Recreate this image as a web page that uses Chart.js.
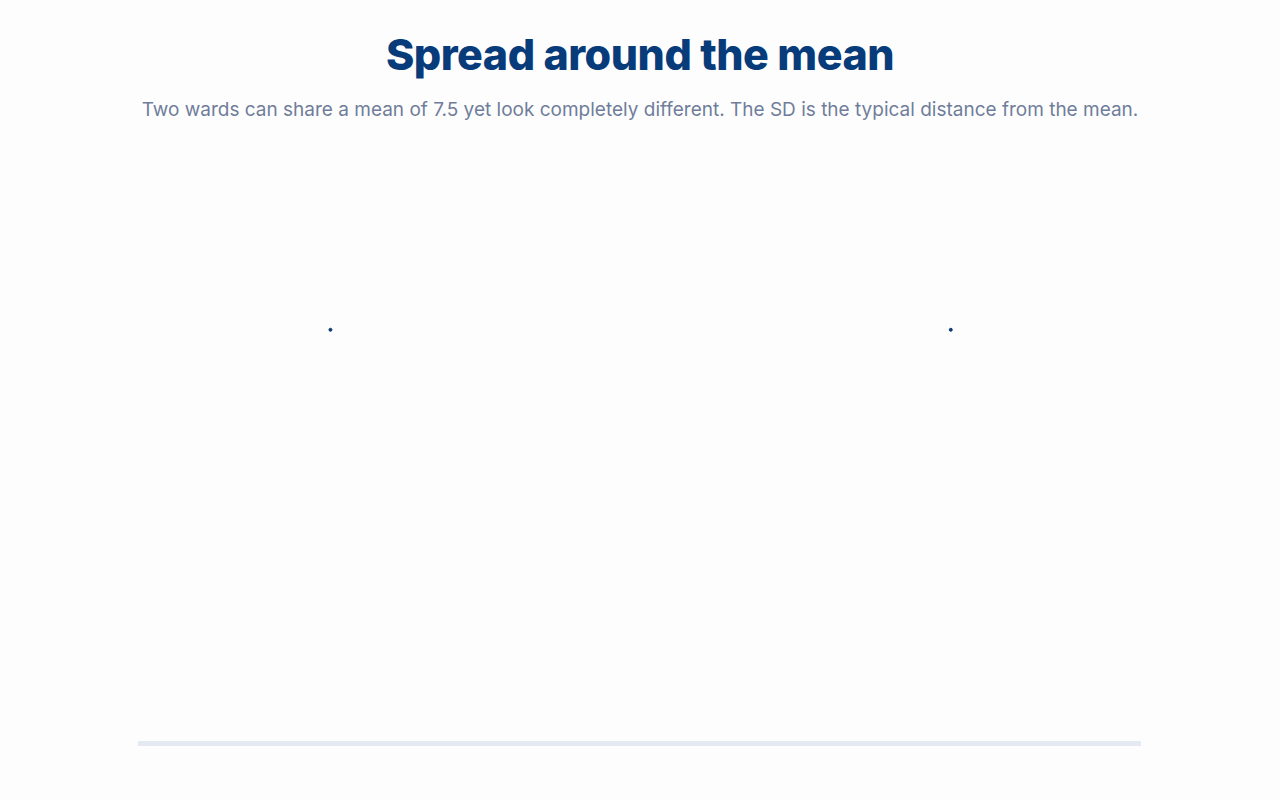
<!DOCTYPE html>
<html>
<head>
<meta charset="utf-8">
<title>Spread around the mean</title>
<script src="https://cdn.jsdelivr.net/npm/chart.js@4.4.1/dist/chart.umd.min.js"></script>
<style>
  html, body { margin: 0; padding: 0; background: #fdfdfe; }
  body { width: 1280px; height: 800px; position: relative; overflow: hidden;
         font-family: "Inter", "Noto Sans", sans-serif; }
  h1 { position: absolute; top: 28px; left: 0; width: 1280px; margin: 0;
       text-align: center; font-size: 43px; font-weight: 800; color: #073b7a;
       letter-spacing: -0.5px; }
  p.sub { position: absolute; top: 98px; left: 0; width: 1280px; margin: 0;
          text-align: center; font-size: 19px; color: #707d9a; }
  #wrap { position: absolute; left: 0; top: 140px; width: 1280px; height: 650px; }
</style>
</head>
<body>
<h1>Spread around the mean</h1>
<p class="sub">Two wards can share a mean of 7.5 yet look completely different. The SD is the typical distance from the mean.</p>
<div id="wrap"><canvas id="chart"></canvas></div>
<script>
// wards and their means
const wards = ["Ward A", "Ward B"];
const wardPos = [1, 2];
const wardMeans = [7.5, 7.5];

const datasets = wards.map((name, i) => ({
    label: name,
    data: [{ x: wardPos[i], y: wardMeans[i] }],
    backgroundColor: '#0b3a75',
    borderColor: '#0b3a75',
    pointRadius: 1.5,
    pointHoverRadius: 2
}));

const config = {
    type: 'scatter',
    data: { datasets: datasets },
    options: {
        responsive: true,
        maintainAspectRatio: false,
        animation: false,
        layout: {
            padding: { left: 140, right: 140, top: 52, bottom: 39 }
        },
        plugins: {
            legend: { display: false },
            tooltip: { enabled: false }
        },
        scales: {
            x: {
                type: 'linear',
                min: 0.693,
                max: 2.305,
                grid: { display: false },
                ticks: { display: false },
                border: { display: true, color: '#e4e9f2', width: 5 }
            },
            y: {
                display: false,
                min: 0,
                max: 10
            }
        }
    }
};

const graph = new Chart(document.getElementById('chart'), config);
</script>
</body>
</html>
